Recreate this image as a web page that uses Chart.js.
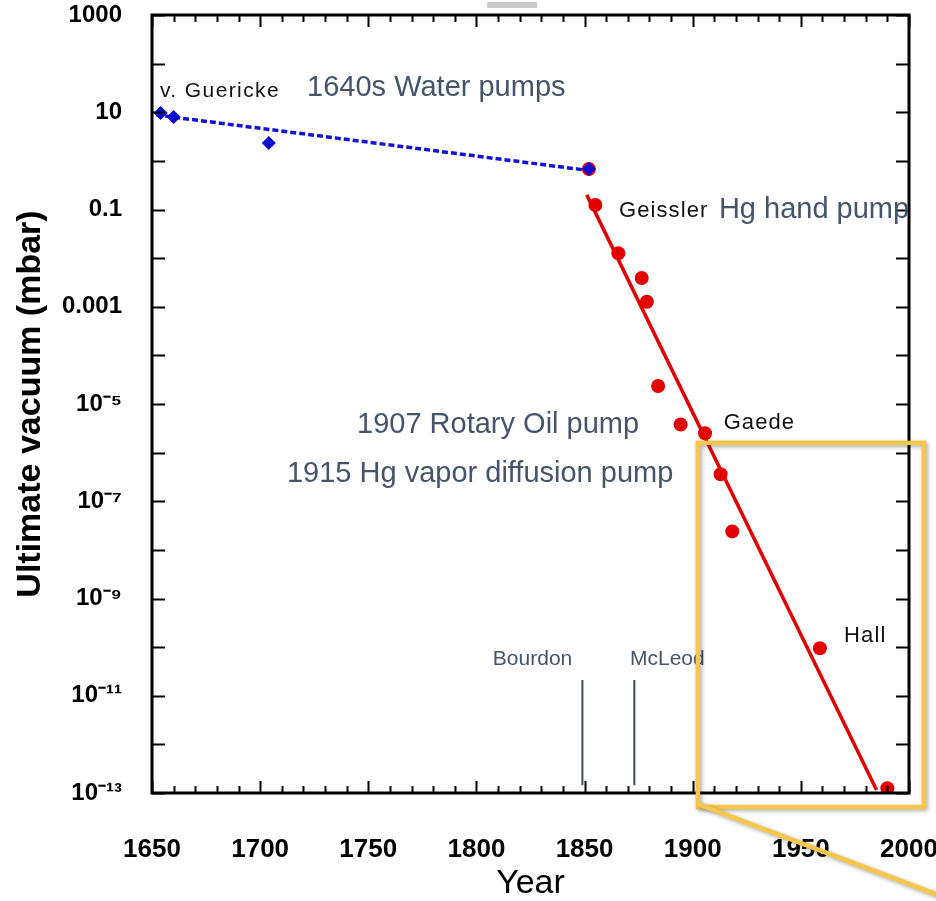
<!DOCTYPE html>
<html>
<head>
<meta charset="utf-8">
<script src="https://cdn.jsdelivr.net/npm/chart.js@4.4.0/dist/chart.umd.min.js"></script>
<style>
  html, body { margin: 0; padding: 0; background: #fff; }
</style>
</head>
<body>
<canvas id="grafico" width="936" height="901"></canvas>
<script>
// blue series (before 1850) and its fitted trend
const anosAzul = [1654, 1660, 1704, 1852]
const vacuoAzul = [9.7, 8.0, 2.33, 0.68]
const tendAzulAnos = [1652, 1850]
const tendAzulVacuo = [8.8, 0.65]

// red series (1850 on) and its fitted trend
const anosVermelho = [1852, 1855, 1865.6, 1876.4, 1878.8, 1884, 1894.4, 1905.7, 1912.9, 1918.3, 1958.8, 1990]
const vacuoVermelho = [0.68, 0.124, 0.0126, 0.0039, 0.00127, 2.34e-5, 3.8e-6, 2.5e-6, 3.6e-7, 2.4e-8, 9.5e-11, 1.25e-13]
const tendVermelhoAnos = [1851, 1985]
const tendVermelhoVacuo = [0.2, 1.15e-13]

// gauge inventions (vertical markers)
const medidores = ['Bourdon', 'McLeod']
const medidoresAnos = [1849, 1873]
const medidoresFaixa = [2.1e-11, 1.45e-13]

// axis ticks
const ticksX = [1650, 1700, 1750, 1800, 1850, 1900, 1950, 2000]
const expoentes = [3, 2, 1, 0, -1, -2, -3, -4, -5, -6, -7, -8, -9, -10, -11, -12, -13]

const fonte = 'Liberation Sans, Arial, sans-serif'
const ardosia = '#44546A'

// text notes, placed in data units (year, log10 of baseline)
const notas = [
  {t: 'v. Guericke', x: 1653.7, e: 1.31, f: '21px', c: '#111', ls: '1.4px'},
  {t: '1640s Water pumps', x: 1721.7, e: 1.33, f: '29px', c: ardosia, ls: '0px'},
  {t: 'Geissler', x: 1865.9, e: -1.15, f: '22px', c: '#111', ls: '1.1px'},
  {t: 'Hg hand pump', x: 1912.1, e: -1.17, f: '29px', c: ardosia, ls: '0px'},
  {t: 'Gaede', x: 1914.3, e: -5.51, f: '22px', c: '#111', ls: '1.1px'},
  {t: '1907 Rotary Oil pump', x: 1744.8, e: -5.6, f: '29px', c: ardosia, ls: '0px'},
  {t: '1915 Hg vapor diffusion pump', x: 1712.4, e: -6.6, f: '29px', c: ardosia, ls: '0px'},
  {t: 'Hall', x: 1970, e: -9.9, f: '22px', c: '#111', ls: '1.1px'},
  {t: medidores[0], x: 1807.6, e: -10.37, f: '21px', c: ardosia, ls: '0px'},
  {t: medidores[1], x: 1871, e: -10.37, f: '21px', c: ardosia, ls: '0px'}
]

const sup = {'-': '⁻', '0': '⁰', '1': '¹', '2': '²', '3': '³', '4': '⁴', '5': '⁵', '6': '⁶', '7': '⁷', '8': '⁸', '9': '⁹'}
const rotuloY = v => {
  const e = Math.round(Math.log10(v))
  if (e % 2 === 0) return ''
  if (e >= -3) return {3: '1000', 1: '10', '-1': '0.1', '-3': '0.001'}[e]
  return '10' + String(e).split('').map(c => sup[c]).join('')
}

const pontos = (xs, ys) => xs.map((x, i) => ({x: x, y: ys[i]}))

const semFolga = s => { s.paddingTop = 0; s.paddingBottom = 0; s.paddingLeft = 0; s.paddingRight = 0 }

const datasets = [
  {data: pontos(anosAzul, vacuoAzul), pointStyle: 'rectRot', pointRadius: 7, backgroundColor: '#0B0BD0', borderWidth: 0, order: 0},
  {data: pontos(anosVermelho, vacuoVermelho), pointStyle: 'circle', pointRadius: 7, backgroundColor: '#E20000', borderWidth: 0, order: 1},
  {data: pontos(tendAzulAnos, tendAzulVacuo), showLine: true, pointRadius: 0, borderColor: '#1414D6', borderWidth: 3.5, borderDash: [6, 3], order: 2},
  {data: pontos(tendVermelhoAnos, tendVermelhoVacuo), showLine: true, pointRadius: 0, borderColor: '#E00000', borderWidth: 3.5, order: 3}
]
medidoresAnos.forEach(a => datasets.push({
  data: pontos([a, a], medidoresFaixa), showLine: true, pointRadius: 0, borderColor: '#3E4A5D', borderWidth: 2, order: 4
}))

const moldura = {
  id: 'moldura',
  afterDraw(chart) {
    const ctx = chart.ctx
    const {left, right, top, bottom} = chart.chartArea
    const sx = chart.scales.x, sy = chart.scales.y
    ctx.save()
    ctx.strokeStyle = '#000'
    ctx.lineWidth = 2
    ctx.beginPath()
    for (let a = 1650; a <= 2000; a += 10) {
      const px = Math.round(sx.getPixelForValue(a)) + 0.5
      const len = a % 50 === 0 ? 12 : 7
      ctx.moveTo(px, bottom); ctx.lineTo(px, bottom - len)
      ctx.moveTo(px, top); ctx.lineTo(px, top + len)
    }
    expoentes.forEach(e => {
      const py = Math.round(sy.getPixelForValue(10 ** e)) + 0.5
      ctx.moveTo(left, py); ctx.lineTo(left + 13, py)
      ctx.moveTo(right, py); ctx.lineTo(right - 13, py)
    })
    ctx.stroke()
    ctx.lineWidth = 3
    ctx.strokeRect(left, top, right - left, bottom - top)

    // notes
    notas.forEach(n => {
      ctx.font = n.f + ' ' + fonte
      ctx.fillStyle = n.c
      ctx.letterSpacing = n.ls
      ctx.textAlign = 'left'
      ctx.textBaseline = 'alphabetic'
      ctx.fillText(n.t, sx.getPixelForValue(n.x), sy.getPixelForValue(10 ** n.e))
    })
    ctx.letterSpacing = '0px'

    // grey tab at top
    ctx.fillStyle = '#C8C8C8'
    const g1 = sx.getPixelForValue(1805), g2 = sx.getPixelForValue(1828)
    ctx.fillRect(g1, top - 13, g2 - g1, 6)

    // yellow zoom frame
    const bx1 = sx.getPixelForValue(1902.4), bx2 = sx.getPixelForValue(2006.9)
    const by1 = sy.getPixelForValue(10 ** -5.8), by2 = sy.getPixelForValue(10 ** -13.29)
    ctx.shadowColor = 'rgba(0,0,0,0.35)'
    ctx.shadowBlur = 4
    ctx.shadowOffsetX = 1.5
    ctx.shadowOffsetY = 1.5
    ctx.strokeStyle = '#F8C64A'
    ctx.lineWidth = 4.5
    ctx.strokeRect(bx1, by1, bx2 - bx1, by2 - by1)
    ctx.beginPath()
    ctx.moveTo(bx1, by2 - 3)
    ctx.lineTo(sx.getPixelForValue(2013.5), sy.getPixelForValue(10 ** -15.1))
    ctx.stroke()
    ctx.restore()
  }
}

new Chart(document.getElementById('grafico'), {
  type: 'scatter',
  data: {datasets: datasets},
  options: {
    responsive: false,
    animation: false,
    devicePixelRatio: 1,
    layout: {padding: {left: 0, right: 27, top: 15, bottom: 0}},
    plugins: {legend: {display: false}, tooltip: {enabled: false}},
    scales: {
      x: {
        type: 'linear', min: 1650, max: 2000,
        afterBuildTicks: s => { s.ticks = ticksX.map(v => ({value: v})) },
        afterFit: s => { s.height = 108; semFolga(s) },
        grid: {display: false},
        border: {display: false},
        ticks: {autoSkip: false, maxRotation: 0, padding: 33, color: '#000', callback: v => String(v),
          font: {family: fonte, size: 26, weight: 'bold'}},
        title: {display: true, text: 'Year', color: '#000', padding: {top: 0, bottom: 0},
          font: {family: fonte, size: 34, lineHeight: 1}}
      },
      y: {
        type: 'logarithmic', min: 1e-13, max: 1e3,
        afterBuildTicks: s => { s.ticks = expoentes.map(e => ({value: 10 ** e})) },
        afterFit: s => { s.width = 152; semFolga(s) },
        grid: {display: false},
        border: {display: false},
        ticks: {autoSkip: false, padding: 22, color: '#000', callback: rotuloY,
          font: {family: fonte, size: 24, weight: 'bold'}},
        title: {display: true, text: 'Ultimate vacuum (mbar)', color: '#000', padding: {top: 10, bottom: 0},
          font: {family: fonte, size: 34, weight: 'bold'}}
      }
    }
  },
  plugins: [moldura]
})
</script>
</body>
</html>
